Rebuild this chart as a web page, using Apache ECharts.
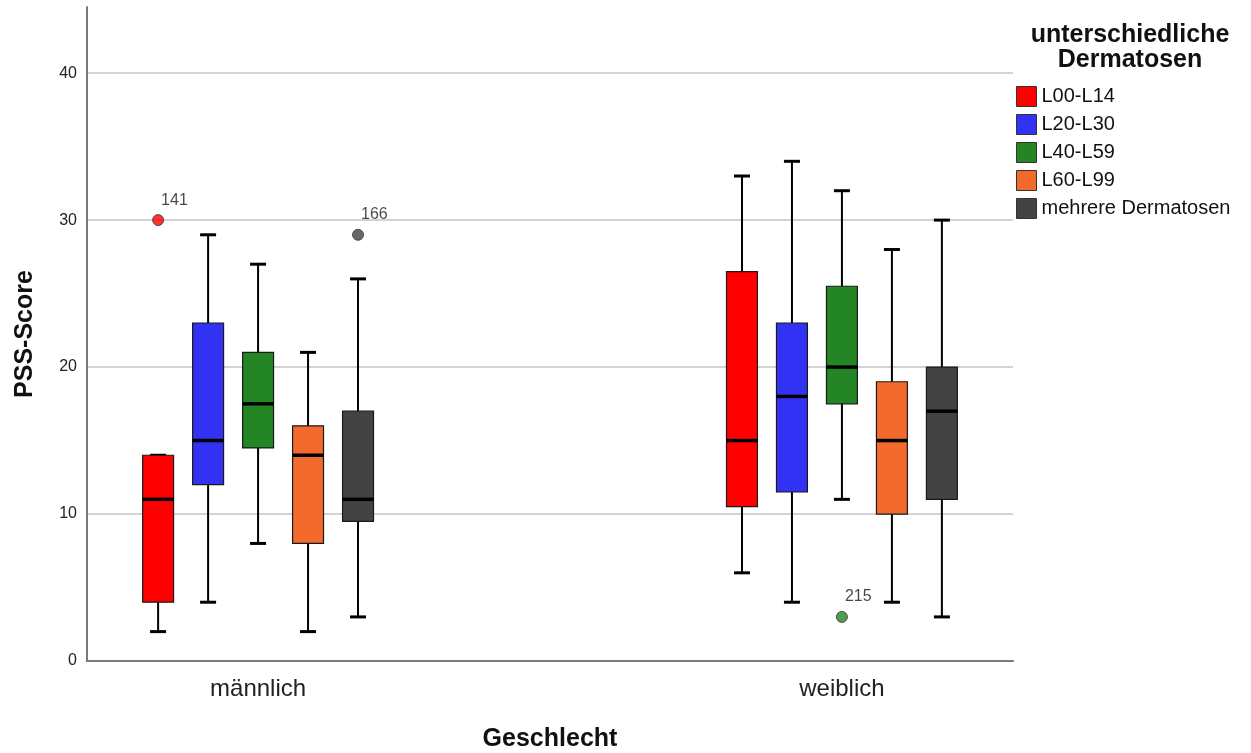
<!DOCTYPE html>
<html>
<head>
<meta charset="utf-8">
<script src="https://cdn.jsdelivr.net/npm/echarts@6/dist/echarts.min.js"></script>
<style>
  html, body { margin: 0; padding: 0; background: #fff; }
  #chart { width: 1251px; height: 753px; }
</style>
</head>
<body>
<div id="chart"></div>
<script>
// Gender groups on the x axis
const groups = ['männlich', 'weiblich'];

// Dermatosis groups (one box per group and gender)
const seriesNames = ['L00-L14', 'L20-L30', 'L40-L59', 'L60-L99', 'mehrere Dermatosen'];
const seriesColors = ['#ff0000', '#3232f4', '#238523', '#f26b2c', '#434343'];

// Box statistics per gender: [lower whisker, Q1, median, Q3, upper whisker]
const boxL00 = [[2, 4, 11, 14, 14], [6, 10.5, 15, 26.5, 33]];
const boxL20 = [[4, 12, 15, 23, 29], [4, 11.5, 18, 23, 34]];
const boxL40 = [[8, 14.5, 17.5, 21, 27], [11, 17.5, 20, 25.5, 32]];
const boxL60 = [[2, 8, 14, 16, 21], [4, 10, 15, 19, 28]];
const boxMehr = [[3, 9.5, 11, 17, 26], [3, 11, 17, 20, 30]];
const boxStats = [boxL00, boxL20, boxL40, boxL60, boxMehr];

// Outliers: [gender index, dermatosis index, PSS value, case number]
const outliers = [
  [0, 0, 30, '141'],
  [0, 4, 29, '166'],
  [1, 2, 3, '215']
];

const yTicks = [0, 10, 20, 30, 40];

// Layout in x-axis units (1 unit = distance between the two gender groups)
const SLOT = 0.0856;   // spacing between neighbouring boxes
const BOX_W = 0.053;   // box width
const CAP_W = 0.0274;  // whisker cap width
const FONT = '"Liberation Sans", Arial, sans-serif';

function boxX(g, s) {
  return g + 1 + (s - 2) * SLOT;
}

function makeRender(s) {
  return function (params, api) {
    const cx = boxX(api.value(0), s);
    const low = api.coord([cx, api.value(1)]);
    const q1 = api.coord([cx, api.value(2)]);
    const med = api.coord([cx, api.value(3)]);
    const q3 = api.coord([cx, api.value(4)]);
    const high = api.coord([cx, api.value(5)]);
    const hw = api.size([BOX_W, 0])[0] / 2;
    const cw = api.size([CAP_W, 0])[0] / 2;
    const x = low[0];
    const lineStyle = { stroke: '#000', lineWidth: 2 };
    const capStyle = { stroke: '#000', lineWidth: 3 };
    return {
      type: 'group',
      children: [
        { type: 'line', shape: { x1: x, y1: low[1], x2: x, y2: q1[1] }, style: lineStyle },
        { type: 'line', shape: { x1: x, y1: q3[1], x2: x, y2: high[1] }, style: lineStyle },
        { type: 'line', shape: { x1: x - cw, y1: low[1], x2: x + cw, y2: low[1] }, style: capStyle },
        { type: 'line', shape: { x1: x - cw, y1: high[1], x2: x + cw, y2: high[1] }, style: capStyle },
        {
          type: 'rect',
          shape: { x: x - hw, y: q3[1], width: hw * 2, height: q1[1] - q3[1] },
          style: { fill: api.visual('color'), stroke: '#1a1a1a', lineWidth: 1.2 }
        },
        { type: 'line', shape: { x1: x - hw, y1: med[1], x2: x + hw, y2: med[1] }, style: { stroke: '#000', lineWidth: 3.5 } }
      ]
    };
  };
}

const boxSeries = seriesNames.map(function (name, s) {
  return {
    type: 'custom',
    name: name,
    itemStyle: { color: seriesColors[s] },
    renderItem: makeRender(s),
    encode: { x: 0, y: [1, 2, 3, 4, 5] },
    data: boxStats[s].map(function (v, g) { return [g].concat(v); }),
    z: 3
  };
});

const outlierSeries = {
  type: 'scatter',
  symbol: 'circle',
  symbolSize: 11,
  z: 4,
  data: outliers.map(function (o) {
    return {
      value: [boxX(o[0], o[1]), o[2]],
      name: o[3],
      itemStyle: { color: seriesColors[o[1]], borderColor: '#333', borderWidth: 1 }
    };
  }),
  label: {
    show: true,
    formatter: '{b}',
    position: [9, -14],
    align: 'left',
    verticalAlign: 'middle',
    fontSize: 16,
    fontFamily: FONT,
    color: '#1a1a1a'
  }
};

const chart = echarts.init(document.getElementById('chart'), null, { renderer: 'canvas' });

chart.setOption({
  animation: false,
  backgroundColor: '#fff',
  textStyle: { fontFamily: FONT },
  title: {
    text: 'unterschiedliche\nDermatosen',
    left: 1125,
    top: 18,
    textAlign: 'center',
    textStyle: { fontSize: 25, fontWeight: 'bold', lineHeight: 25, color: '#111', fontFamily: FONT }
  },
  legend: {
    data: seriesNames,
    orient: 'vertical',
    left: 1011,
    top: 81,
    itemWidth: 20,
    itemHeight: 20,
    itemGap: 7,
    icon: 'rect',
    itemStyle: { borderColor: '#333', borderWidth: 1 },
    textStyle: { fontSize: 20, color: '#111', fontFamily: FONT }
  },
  grid: { left: 87, right: 238, top: 7, bottom: 92, outerBoundsMode: 'none' },
  xAxis: {
    type: 'value',
    min: 0.707,
    max: 2.293,
    name: 'Geschlecht',
    nameLocation: 'middle',
    nameGap: 66,
    nameTextStyle: { fontSize: 25, fontWeight: 'bold', color: '#111', fontFamily: FONT },
    axisLine: { show: true, onZero: false, lineStyle: { color: '#7a7a7a', width: 2 } },
    axisTick: { show: false },
    splitLine: { show: false },
    axisLabel: {
      customValues: [1, 2],
      formatter: function (v) { return groups[Math.round(v) - 1] || ''; },
      fontSize: 24,
      color: '#222',
      margin: 16,
      fontFamily: FONT
    }
  },
  yAxis: {
    type: 'value',
    min: 0,
    max: 44.5,
    interval: 10,
    name: 'PSS-Score',
    nameLocation: 'middle',
    nameGap: 49,
    nameTextStyle: { fontSize: 25, fontWeight: 'bold', color: '#111', fontFamily: FONT },
    axisLine: { show: true, lineStyle: { color: '#7a7a7a', width: 2 } },
    axisTick: { show: false },
    axisLabel: {
      customValues: yTicks,
      fontSize: 16,
      color: '#222',
      margin: 10,
      fontFamily: FONT
    },
    splitLine: { show: true, showMinLine: false, showMaxLine: false, lineStyle: { color: '#c4c4c4', width: 1.5 } }
  },
  series: boxSeries.concat([outlierSeries])
});
</script>
</body>
</html>
